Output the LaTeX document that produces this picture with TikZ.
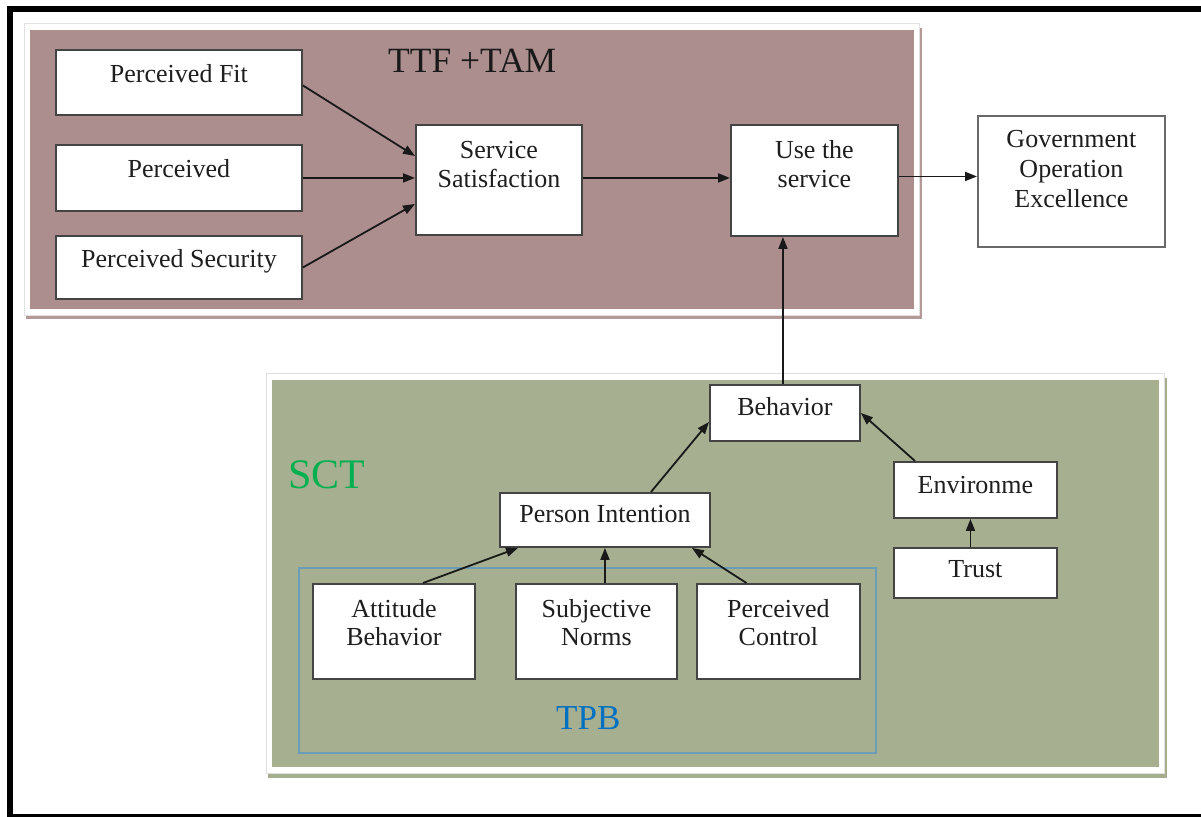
\documentclass[tikz,border=0pt]{standalone}
\usepackage{fontspec}
\setmainfont{Liberation Serif}
\usetikzlibrary{arrows.meta}
\definecolor{pinkfill}{HTML}{AD8E8E}
\definecolor{pinkline}{HTML}{B59898}
\definecolor{greenfill}{HTML}{A6B091}
\definecolor{greenline}{HTML}{A4AE8E}
\definecolor{sctgreen}{HTML}{00B050}
\definecolor{tpbblue}{HTML}{0070C0}
\definecolor{tpbline}{HTML}{6A9EB8}
\definecolor{boxline}{HTML}{444444}
\definecolor{txt}{HTML}{1E1E1E}
\newcommand\bxt[4]{\parbox[c][#2][t]{#1}{\centering\rule{0pt}{#3}#4}}
\tikzset{
  bx/.style={draw=boxline, fill=white, line width=1.9pt, inner sep=0pt,
    anchor=north west, text=txt, font=\fontsize{26}{29}\selectfont},
  link/.style={draw=black!90, line width=1.8pt,
    -{Triangle[length=12pt,width=9pt]}},
  regionwhite/.style={fill=white, draw=black!12, line width=1pt},
}
\begin{document}
\begin{tikzpicture}[x=1pt,y=-1pt]
\useasboundingbox (0,0) rectangle (1201,816);
\clip (0,0) rectangle (1201,816);
\fill[white] (0,0) rectangle (1201,816);
% outer frame
\draw[line width=6pt, black] (10,9) rectangle (1240,816.5);
% TTF + TAM region
\fill[pinkline] (26,28) rectangle (922,319);
\draw[regionwhite] (24,24) rectangle (919,315);
\fill[pinkfill] (30,30) rectangle (914,309);
% SCT region
\fill[greenline] (268,378) rectangle (1167,778);
\draw[regionwhite] (266,373) rectangle (1164,773);
\fill[greenfill] (272,380) rectangle (1159,767);
% TPB frame
\draw[tpbline, line width=1.2pt] (299,568) rectangle (876,753);
% labels
\node[anchor=base west, inner sep=0pt, font=\fontsize{35.5}{40}\selectfont, text=black!90] (ttf) at (388,73) {TTF +TAM};
\node[anchor=base west, inner sep=0pt, font=\fontsize{42}{46}\selectfont, text=sctgreen] (sct) at (288,488) {SCT};
\node[anchor=base west, inner sep=0pt, font=\fontsize{35}{40}\selectfont, text=tpbblue] (tpbl) at (556,729) {TPB};
% boxes
\node[bx] (pf) at (55,49) {\bxt{246pt}{65pt}{33pt}{Perceived Fit}};
\node[bx] (pp) at (55,144) {\bxt{246pt}{66pt}{33pt}{Perceived}};
\node[bx] (ps) at (55,235) {\bxt{246pt}{63pt}{32pt}{Perceived Security}};
\node[bx] (ss) at (415,124) {\bxt{166pt}{110pt}{34pt}{Service\\Satisfaction}};
\node[bx] (us) at (730,124) {\bxt{167pt}{111pt}{34pt}{Use the\\service}};
\node[bx, draw=boxline!80, font=\fontsize{26}{30}\selectfont] (gov) at (977,115) {\bxt{187pt}{131pt}{32pt}{Government\\Operation\\Excellence}};
\node[bx] (beh) at (709,384) {\bxt{150pt}{56pt}{31pt}{Behavior}};
\node[bx] (pi) at (499,492) {\bxt{210pt}{54pt}{30pt}{Person Intention}};
\node[bx] (env) at (893,461) {\bxt{163pt}{56pt}{32pt}{Environme}};
\node[bx] (tr) at (893,547) {\bxt{163pt}{50pt}{30pt}{Trust}};
\node[bx, font=\fontsize{26}{28}\selectfont] (att) at (312,583) {\bxt{162pt}{95pt}{34pt}{Attitude\\Behavior}};
\node[bx, font=\fontsize{26}{28}\selectfont] (sub) at (515,583) {\bxt{161pt}{95pt}{34pt}{Subjective\\Norms}};
\node[bx, font=\fontsize{26}{28}\selectfont] (pc) at (696,583) {\bxt{163pt}{95pt}{34pt}{Perceived\\Control}};
% connectors
\draw[link] ([yshift=-3pt]pf.east) -- ([yshift=24pt]ss.west);
\draw[link] (pp.east) -- (pp.east -| ss.west);
\draw[link] (ps.east) -- ([yshift=-24pt]ss.west);
\draw[link] ([yshift=2pt]ss.east) -- ([yshift=2pt]ss.east -| us.west);
\draw[link] ([yshift=4pt]us.east) -- ([yshift=4pt]us.east -| gov.west);
\draw[link] ([xshift=-2pt]beh.north) -- ([xshift=-2pt]beh.north |- us.south);
\draw[link] ([xshift=46pt]pi.north) -- ([yshift=-9pt]beh.west);
\draw[link] ([xshift=22pt]env.north west) -- (beh.east);
\draw[link] ([xshift=-5pt]tr.north) -- ([xshift=-5pt]env.south);
\draw[link] ([xshift=29pt]att.north) -- ([xshift=19pt]pi.south west);
\draw[link] (pi.south |- sub.north) -- (pi.south);
\draw[link] ([xshift=-32pt]pc.north) -- ([xshift=-19pt]pi.south east);
\end{tikzpicture}
\end{document}
